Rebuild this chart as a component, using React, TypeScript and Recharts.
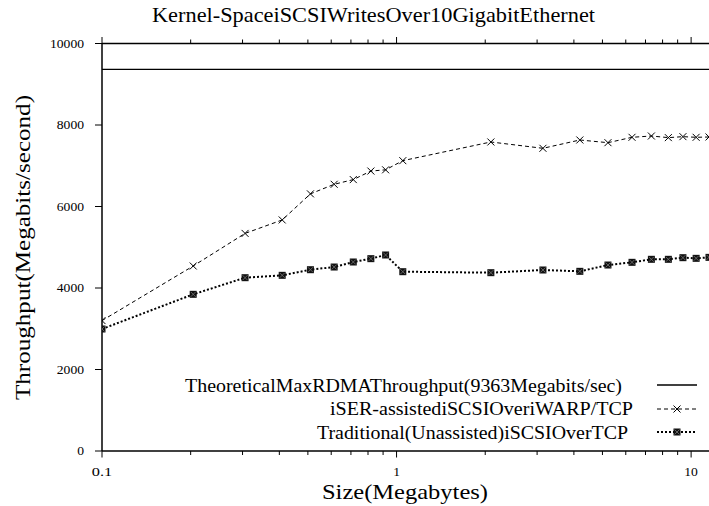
import { LineChart, Line, XAxis, YAxis, ReferenceLine } from "recharts";

const FONT = "Liberation Serif, Times New Roman, serif";

// sizes in megabytes (log axis)
const sizes = [0.1, 0.204, 0.306, 0.409, 0.51, 0.614, 0.713, 0.818, 0.918, 1.05, 2.09, 3.14, 4.19, 5.22, 6.3, 7.33, 8.37, 9.38, 10.4, 11.5];
const iserThroughput = [3200, 4540, 5340, 5670, 6310, 6545, 6660, 6870, 6900, 7125, 7583, 7428, 7632, 7566, 7698, 7730, 7690, 7714, 7698, 7706];
const tradThroughput = [2994, 3845, 4253, 4311, 4449, 4515, 4638, 4720, 4810, 4400, 4376, 4442, 4409, 4564, 4630, 4704, 4704, 4744, 4728, 4752];
const theoreticalMax = 9363;

const xTicks = [0.1, 0.2, 0.3, 0.4, 0.5, 0.6, 0.7, 0.8, 0.9, 1, 2, 3, 4, 5, 6, 7, 8, 9, 10];
const xMajor = [0.1, 1, 10];
const yTicks = [0, 2000, 4000, 6000, 8000, 10000];

const legendNames = [
  "TheoreticalMaxRDMAThroughput(9363Megabits/sec)",
  "iSER-assistediSCSIOveriWARP/TCP",
  "Traditional(Unassisted)iSCSIOverTCP",
];

const data = sizes.map((s, i) => ({
  size: s,
  iser: iserThroughput[i],
  trad: tradThroughput[i],
}));

const txt = (size: number) => ({ fontFamily: FONT, fontSize: size });

// the original output is a little stretched sideways, so text widths are fixed
function StretchText({ x, y, len, size, children, ...rest }: any) {
  return (
    <text x={x} y={y} style={txt(size)} fill="#000" textLength={len} lengthAdjust="spacingAndGlyphs" {...rest}>
      {children}
    </text>
  );
}

function BottomTick(props: any) {
  const { x, y, payload } = props;
  const major = xMajor.includes(payload.value);
  const label = String(payload.value);
  const w = label.length * 6.8;
  return (
    <g>
      <line x1={x} x2={x} y1={y} y2={y + (major ? 6.5 : 4)} stroke="#000" strokeWidth={1} />
      {major && (
        <StretchText x={x - w / 2} y={y + 25} len={w} size={12.5}>
          {label}
        </StretchText>
      )}
    </g>
  );
}

function TopTick(props: any) {
  const { x, y, payload } = props;
  const major = xMajor.includes(payload.value);
  return <line x1={x} x2={x} y1={y} y2={y - (major ? 6.5 : 4)} stroke="#000" strokeWidth={1} />;
}

function LeftTick(props: any) {
  const { x, y, payload } = props;
  const label = String(payload.value);
  const w = label.length * 6.8;
  return (
    <g>
      <line x1={x - 7} x2={x} y1={y} y2={y} stroke="#000" strokeWidth={1} />
      <StretchText x={x - 18 - w} y={y + 4} len={w} size={12.5}>
        {label}
      </StretchText>
    </g>
  );
}

function CrossDot(props: any) {
  const { cx, cy } = props;
  if (cx == null || cy == null) return null;
  const r = 3.5;
  return (
    <g stroke="#000" strokeWidth={1}>
      <line x1={cx - r} y1={cy - r} x2={cx + r} y2={cy + r} />
      <line x1={cx - r} y1={cy + r} x2={cx + r} y2={cy - r} />
    </g>
  );
}

function BoxDot(props: any) {
  const { cx, cy } = props;
  if (cx == null || cy == null) return null;
  return (
    <g>
      <rect x={cx - 3.5} y={cy - 3.5} width={7} height={7} fill="#111" />
      <line x1={cx - 2.5} y1={cy - 2.5} x2={cx + 2.5} y2={cy + 2.5} stroke="#777" strokeWidth={0.8} />
      <line x1={cx - 2.5} y1={cy + 2.5} x2={cx + 2.5} y2={cy - 2.5} stroke="#777" strokeWidth={0.8} />
    </g>
  );
}

export default function App() {
  return (
    <div style={{ position: "absolute", left: 0, top: 0, width: 709, height: 506, background: "#fff", overflow: "hidden", fontFamily: FONT }}>
      <LineChart width={709} height={506} data={data} margin={{ top: 0, right: 0, bottom: 0, left: 0 }}>
        <XAxis
          xAxisId="bottom"
          dataKey="size"
          type="number"
          scale="log"
          domain={[0.1, 11.5]}
          allowDataOverflow
          ticks={xTicks}
          interval={0}
          height={55}
          tickSize={0}
          tickMargin={0}
          tickLine={false}
          tick={<BottomTick />}
          axisLine={{ stroke: "#000", strokeWidth: 1.5 }}
        />
        <XAxis
          xAxisId="top"
          orientation="top"
          dataKey="size"
          type="number"
          scale="log"
          domain={[0.1, 11.5]}
          allowDataOverflow
          ticks={xTicks}
          interval={0}
          height={43.5}
          tickSize={0}
          tickMargin={0}
          tickLine={false}
          tick={<TopTick />}
          axisLine={{ stroke: "#000", strokeWidth: 1.5 }}
        />
        <YAxis
          type="number"
          domain={[0, 10000]}
          ticks={yTicks}
          interval={0}
          width={102}
          tickSize={0}
          tickMargin={0}
          tickLine={false}
          tick={<LeftTick />}
          axisLine={{ stroke: "#000", strokeWidth: 1.5 }}
        />
        <ReferenceLine xAxisId="bottom" y={theoreticalMax} stroke="#000" strokeWidth={1.3} />
        <Line
          xAxisId="bottom"
          dataKey="iser"
          stroke="#000"
          strokeWidth={1}
          strokeDasharray="4 3"
          dot={<CrossDot />}
          isAnimationActive={false}
        />
        <Line
          xAxisId="bottom"
          dataKey="trad"
          stroke="#000"
          strokeWidth={2}
          strokeDasharray="2 2"
          dot={<BoxDot />}
          isAnimationActive={false}
        />
      </LineChart>
      <svg width={709} height={506} style={{ position: "absolute", left: 0, top: 0, pointerEvents: "none" }}>
        <StretchText x={152} y={22} len={443} size={21}>
          Kernel-SpaceiSCSIWritesOver10GigabitEthernet
        </StretchText>
        <StretchText x={322} y={499} len={166} size={21}>
          Size(Megabytes)
        </StretchText>
        <StretchText x={95} y={30} len={305} size={21} transform="rotate(-90 0 0) translate(-495 0)">
          Throughput(Megabits/second)
        </StretchText>
        <StretchText x={185} y={392} len={437} size={18}>{legendNames[0]}</StretchText>
        <line x1={657} x2={697} y1={385} y2={385} stroke="#000" strokeWidth={1.3} />
        <StretchText x={330} y={415} len={303} size={18}>{legendNames[1]}</StretchText>
        <line x1={657} x2={697} y1={409} y2={409} stroke="#000" strokeWidth={1} strokeDasharray="4 3" />
        <CrossDot cx={677} cy={409} />
        <StretchText x={317} y={439} len={311} size={18}>{legendNames[2]}</StretchText>
        <line x1={657} x2={697} y1={432} y2={432} stroke="#000" strokeWidth={2} strokeDasharray="2 2" />
        <BoxDot cx={677} cy={432} />
      </svg>
    </div>
  );
}
